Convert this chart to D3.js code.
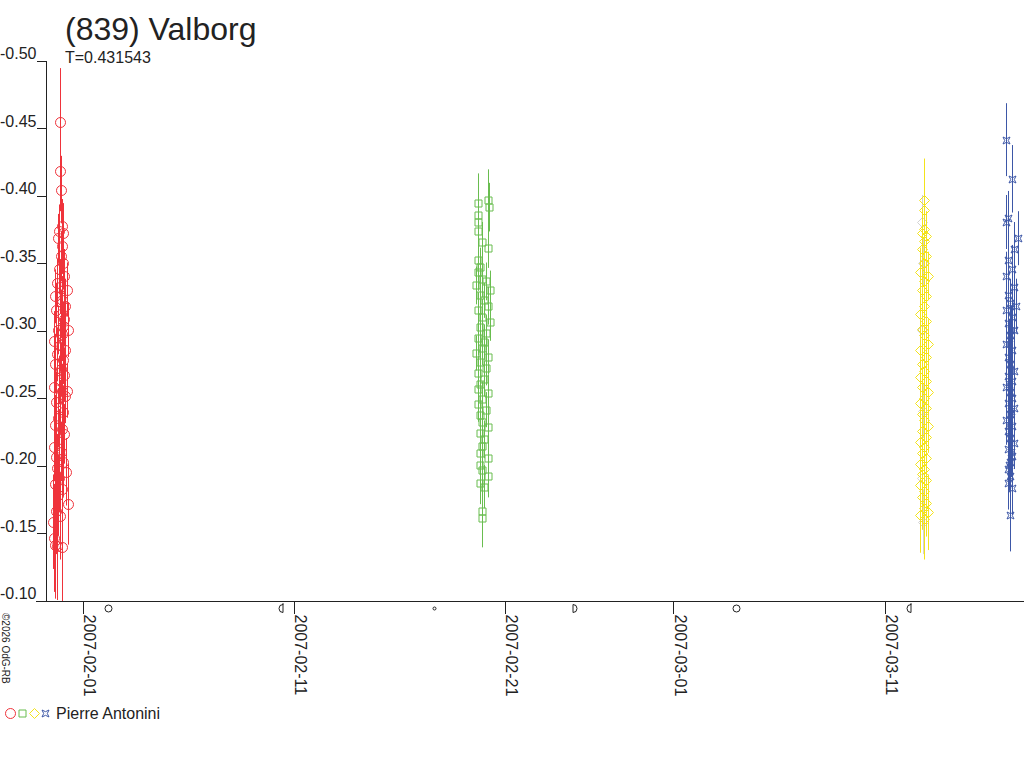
<!DOCTYPE html>
<html>
<head>
  <meta charset="utf-8">
  <title>(839) Valborg</title>
  <style>
    html, body { margin: 0; padding: 0; background: #fff; }
    svg { display: block; font-family: "Liberation Sans", Arial, sans-serif; }
    .axis text { font-size: 16px; fill: #222; }
    .axis line, .axis path { stroke: #222; shape-rendering: crispEdges; }
  </style>
  <script src="https://d3js.org/d3.v7.min.js"></script>
</head>
<body>
<script>
  // observations: [days from 2007-02-01 0h UT, reduced magnitude, error]
  var redObs = [
    [-1.04,-0.454,0.040],[-1.04,-0.418,0.030],[-1.00,-0.404,0.025],[-0.95,-0.377,0.020],
    [-1.09,-0.373,0.020],[-0.90,-0.372,0.022],[-1.14,-0.368,0.018],[-0.95,-0.362,0.020],
    [-1.00,-0.355,0.018],[-0.90,-0.350,0.020],[-1.09,-0.345,0.018],[-0.85,-0.340,0.020],
    [-1.18,-0.335,0.018],[-1.04,-0.332,0.020],[-1.28,-0.325,0.020],[-0.95,-0.322,0.018],
    [-0.81,-0.318,0.020],[-1.23,-0.315,0.020],[-1.00,-0.312,0.018],[-0.85,-0.308,0.020],
    [-0.90,-0.303,0.018],[-1.14,-0.300,0.018],[-0.95,-0.297,0.020],[-1.33,-0.292,0.022],
    [-1.04,-0.289,0.020],[-0.81,-0.285,0.020],[-1.18,-0.282,0.020],[-0.90,-0.278,0.018],
    [-1.28,-0.275,0.022],[-1.00,-0.271,0.020],[-0.85,-0.267,0.020],[-1.09,-0.263,0.018],
    [-1.33,-0.258,0.022],[-0.95,-0.255,0.020],[-0.81,-0.251,0.020],[-1.23,-0.247,0.022],
    [-1.04,-0.243,0.020],[-0.90,-0.239,0.020],[-1.14,-0.235,0.022],[-1.28,-0.230,0.022],
    [-0.95,-0.227,0.020],[-0.85,-0.223,0.022],[-1.09,-0.219,0.022],[-1.33,-0.213,0.025],
    [-1.00,-0.210,0.022],[-1.23,-0.206,0.025],[-0.90,-0.202,0.025],[-1.18,-0.198,0.025],
    [-0.76,-0.195,0.025],[-1.09,-0.190,0.025],[-1.28,-0.186,0.028],[-0.95,-0.182,0.028],
    [-1.14,-0.178,0.030],[-0.66,-0.171,0.030],[-1.23,-0.166,0.032],[-1.37,-0.158,0.035],
    [-1.04,-0.162,0.032],[-1.33,-0.146,0.040],[-1.18,-0.140,0.040],[-0.95,-0.139,0.045],
    [-1.28,-0.141,0.040],[-0.71,-0.330,0.020],[-0.66,-0.300,0.020],[-0.71,-0.255,0.020]
  ];
  var greenObs = [
    [18.77,-0.394,0.022],[19.24,-0.396,0.023],[19.28,-0.391,0.018],[18.77,-0.385,0.015],
    [18.77,-0.380,0.015],[18.77,-0.373,0.015],[18.96,-0.365,0.015],[19.24,-0.361,0.015],
    [18.77,-0.352,0.014],[18.86,-0.347,0.014],[18.77,-0.343,0.014],[18.96,-0.338,0.014],
    [19.15,-0.336,0.014],[18.67,-0.333,0.014],[19.34,-0.330,0.014],[18.86,-0.326,0.014],
    [19.05,-0.322,0.013],[19.24,-0.318,0.014],[18.77,-0.315,0.013],[18.96,-0.310,0.013],
    [19.34,-0.306,0.014],[18.86,-0.302,0.013],[19.15,-0.298,0.013],[18.77,-0.294,0.013],
    [19.05,-0.291,0.013],[18.96,-0.287,0.013],[18.67,-0.283,0.013],[19.24,-0.280,0.013],
    [18.86,-0.276,0.013],[19.15,-0.272,0.013],[18.77,-0.268,0.013],[19.05,-0.264,0.013],
    [18.86,-0.260,0.013],[18.77,-0.256,0.013],[19.24,-0.253,0.014],[18.96,-0.249,0.013],
    [18.77,-0.245,0.013],[19.15,-0.241,0.013],[18.86,-0.237,0.013],[18.96,-0.232,0.014],
    [19.24,-0.228,0.014],[18.86,-0.224,0.014],[19.05,-0.219,0.014],[18.96,-0.214,0.015],
    [18.86,-0.209,0.015],[19.24,-0.205,0.015],[18.86,-0.200,0.015],[18.96,-0.196,0.015],
    [19.24,-0.192,0.016],[18.86,-0.187,0.016],[19.05,-0.184,0.016],[18.96,-0.166,0.020],
    [18.96,-0.161,0.022]
  ];
  var grayObs = [
    [39.81,-0.380,0.020],[39.86,-0.350,0.018],[39.81,-0.300,0.018],
    [39.86,-0.240,0.020],[39.81,-0.190,0.022],[39.86,-0.158,0.024]
  ];
  var yellowObs = [
    [39.91,-0.396,0.031],[39.91,-0.389,0.025],[39.91,-0.375,0.020],[39.81,-0.372,0.018],
    [40.00,-0.370,0.018],[39.91,-0.366,0.018],[39.81,-0.360,0.018],[40.00,-0.355,0.018],
    [39.91,-0.350,0.018],[39.72,-0.343,0.018],[40.09,-0.340,0.018],[39.91,-0.336,0.018],
    [39.81,-0.330,0.018],[40.00,-0.325,0.018],[39.91,-0.318,0.018],[39.72,-0.312,0.018],
    [40.00,-0.307,0.018],[39.81,-0.301,0.018],[39.91,-0.296,0.018],[40.09,-0.290,0.018],
    [39.72,-0.285,0.018],[40.00,-0.280,0.019],[39.81,-0.275,0.019],[39.91,-0.270,0.019],
    [39.72,-0.265,0.019],[40.00,-0.262,0.019],[39.81,-0.258,0.019],[40.09,-0.254,0.019],
    [39.91,-0.250,0.019],[39.72,-0.246,0.019],[40.00,-0.242,0.020],[39.81,-0.238,0.020],
    [39.91,-0.233,0.020],[40.09,-0.229,0.020],[39.81,-0.225,0.020],[40.00,-0.221,0.020],
    [39.72,-0.217,0.021],[39.91,-0.213,0.021],[39.81,-0.209,0.021],[40.00,-0.205,0.021],
    [39.72,-0.201,0.022],[39.91,-0.197,0.022],[39.81,-0.193,0.022],[40.00,-0.189,0.022],
    [39.72,-0.185,0.023],[39.91,-0.181,0.023],[39.81,-0.176,0.024],[40.00,-0.172,0.025],
    [39.91,-0.168,0.026],[39.72,-0.163,0.028],[39.91,-0.160,0.030],[40.09,-0.165,0.028]
  ];
  var blueObs = [
    [43.79,-0.441,0.027],[44.08,-0.412,0.025],[43.89,-0.383,0.020],[43.79,-0.380,0.020],
    [44.36,-0.368,0.020],[44.17,-0.360,0.020],[43.89,-0.352,0.018],[44.08,-0.345,0.018],
    [43.79,-0.340,0.018],[44.17,-0.332,0.018],[43.89,-0.326,0.018],[43.98,-0.320,0.018],
    [44.27,-0.318,0.020],[43.79,-0.315,0.018],[44.08,-0.310,0.018],[43.89,-0.305,0.018],
    [44.17,-0.300,0.018],[43.98,-0.296,0.018],[43.79,-0.290,0.018],[44.08,-0.285,0.018],
    [43.89,-0.280,0.018],[43.98,-0.275,0.018],[44.17,-0.270,0.018],[43.89,-0.266,0.018],
    [44.08,-0.262,0.018],[43.79,-0.258,0.018],[43.98,-0.254,0.018],[44.08,-0.250,0.018],
    [43.89,-0.246,0.018],[44.17,-0.242,0.018],[43.98,-0.238,0.018],[43.79,-0.233,0.018],
    [44.08,-0.229,0.018],[43.89,-0.225,0.019],[43.98,-0.220,0.019],[44.17,-0.216,0.019],
    [43.89,-0.212,0.019],[44.08,-0.207,0.019],[43.98,-0.202,0.019],[43.89,-0.197,0.020],
    [43.98,-0.192,0.020],[43.89,-0.187,0.020],[44.08,-0.183,0.020],[43.98,-0.163,0.027],
    [44.03,-0.300,0.018],[44.03,-0.270,0.018],[44.03,-0.240,0.018],[44.03,-0.210,0.019],
    [43.94,-0.290,0.018],[43.94,-0.260,0.018],[43.94,-0.230,0.018],[43.94,-0.200,0.019]
  ];

  var yTicks = [-0.50, -0.45, -0.40, -0.35, -0.30, -0.25, -0.20, -0.15, -0.10];
  var xTicks = ["2007-02-01", "2007-02-11", "2007-02-21", "2007-03-01", "2007-03-11"];
  var moonDates = ["2007-02-02T05:45Z", "2007-02-10T09:51Z", "2007-02-17T16:14Z",
                   "2007-02-24T07:56Z", "2007-03-03T23:17Z", "2007-03-12T03:54Z"];
  var moonKinds = ["full", "last", "new", "first", "full", "last"];
  var observer = "Pierre Antonini";

  var width = 1024, height = 768;
  var day = 864e5;
  var t0 = Date.UTC(2007, 1, 1);

  var svg = d3.select("body").append("svg")
    .attr("width", width)
    .attr("height", height);

  var x = d3.scaleUtc()
    .domain([new Date("2007-02-01T00:00Z"), new Date("2007-03-11T00:00Z")])
    .range([82, 884]);
  var y = d3.scaleLinear()
    .domain([-0.5, -0.1])
    .range([60, 600]);

  function markerPath(kind) {
    if (kind === "circle") return "M-5,0A5,5 0 1,0 5,0A5,5 0 1,0 -5,0Z";
    if (kind === "square") return "M-3.5,-3.5H3.5V3.5H-3.5Z";
    if (kind === "diamond") return "M0,-5L5,0L0,5L-5,0Z";
    return "M-3.5,-3.5L0,-1.8L3.5,-3.5L1.8,0L3.5,3.5L0,1.8L-3.5,3.5L-1.8,0Z";
  }

  var series = [
    { data: redObs, color: "#ef333b", kind: "circle" },
    { data: greenObs, color: "#69bd4f", kind: "square" },
    { data: grayObs, color: "#d2d2d2", kind: "diamond" },
    { data: yellowObs, color: "#f3e31c", kind: "diamond" },
    { data: blueObs, color: "#3d57a7", kind: "star" }
  ];

  // keep the error bars inside the plot area
  svg.append("clipPath").attr("id", "plotclip")
    .append("rect").attr("x", 47).attr("y", 0).attr("width", width).attr("height", 601);

  var plot = svg.append("g").attr("clip-path", "url(#plotclip)");
  series.forEach(function (s) {
    var g = plot.append("g");
    g.selectAll("line")
      .data(s.data)
      .enter()
      .append("line")
      .attr("x1", d => Math.round(x(t0 + d[0] * day)) + 0.5)
      .attr("x2", d => Math.round(x(t0 + d[0] * day)) + 0.5)
      .attr("y1", d => y(d[1] - d[2]))
      .attr("y2", d => y(d[1] + d[2]))
      .attr("stroke", s.color)
      .attr("stroke-width", 1);
    g.selectAll("path")
      .data(s.data)
      .enter()
      .append("path")
      .attr("d", markerPath(s.kind))
      .attr("transform", d => "translate(" + (Math.round(x(t0 + d[0] * day)) + 0.5) + "," + (Math.round(y(d[1])) + 0.5) + ")")
      .attr("fill", "none")
      .attr("stroke", s.color)
      .attr("stroke-width", 1);
  });

  // y axis
  var yAxis = svg.append("g")
    .attr("class", "axis")
    .attr("transform", "translate(46.5,0.5)")
    .call(d3.axisLeft(y).tickValues(yTicks).tickSize(10).tickSizeOuter(0)
      .tickFormat(d => d.toFixed(2)));
  yAxis.select(".domain").attr("d", "M0,60V601");
  yAxis.selectAll(".tick text")
    .attr("x", -10)
    .attr("dy", "-2");

  // x axis
  svg.append("line")
    .attr("x1", 36).attr("x2", width)
    .attr("y1", 601.5).attr("y2", 601.5)
    .attr("stroke", "#222")
    .attr("shape-rendering", "crispEdges");
  var xAxis = svg.append("g")
    .attr("class", "axis")
    .attr("transform", "translate(0.5,601.5)")
    .call(d3.axisBottom(x).tickValues(xTicks.map(d => new Date(d + "T00:00Z")))
      .tickSize(12).tickSizeOuter(0).tickFormat(d3.utcFormat("%Y-%m-%d")));
  xAxis.select(".domain").remove();
  xAxis.selectAll(".tick text")
    .attr("text-anchor", "start")
    .attr("dy", null)
    .attr("y", 0)
    .attr("transform", "translate(1,13) rotate(90)");

  // moon phases below the axis
  function moonPath(kind) {
    if (kind === "full") return "M-3.5,0A3.5,3.5 0 1,0 3.5,0A3.5,3.5 0 1,0 -3.5,0Z";
    if (kind === "new") return "M-1.5,0A1.5,1.5 0 1,0 1.5,0A1.5,1.5 0 1,0 -1.5,0Z";
    if (kind === "first") return "M-1.5,-4V4A4,4 0 0,0 -1.5,-4Z";
    return "M1.5,-5V4A4,4 0 0,1 1.5,-4Z";
  }
  svg.append("g").selectAll("path")
    .data(moonDates)
    .enter()
    .append("path")
    .attr("d", (d, i) => moonPath(moonKinds[i]))
    .attr("transform", d => "translate(" + (Math.round(x(new Date(d))) + 0.5) + ",608.5)")
    .attr("fill", "none")
    .attr("stroke", "#222")
    .attr("stroke-width", 1);

  // titles
  svg.append("text")
    .attr("x", 65).attr("y", 40)
    .attr("font-size", 32)
    .attr("fill", "#222")
    .text("(839) Valborg");
  svg.append("text")
    .attr("x", 65).attr("y", 63)
    .attr("font-size", 16)
    .attr("fill", "#222")
    .text("T=0.431543");

  // copyright
  svg.append("text")
    .attr("transform", "translate(2,613) rotate(90)")
    .attr("font-size", 10)
    .attr("fill", "#222")
    .text("©2026 OdG-RB");

  // legend
  var legend = svg.append("g").attr("transform", "translate(0,713.5)");
  [["circle", "#ef333b", 10.5], ["square", "#69bd4f", 22.5], ["diamond", "#f3e31c", 34.5], ["star", "#3d57a7", 45.5]]
    .forEach(function (l) {
      legend.append("path")
        .attr("d", markerPath(l[0]))
        .attr("transform", "translate(" + l[2] + ",0)")
        .attr("fill", "none")
        .attr("stroke", l[1]);
    });
  legend.append("text")
    .attr("x", 56).attr("y", 5)
    .attr("font-size", 16)
    .attr("fill", "#222")
    .text(observer);
</script>
</body>
</html>
